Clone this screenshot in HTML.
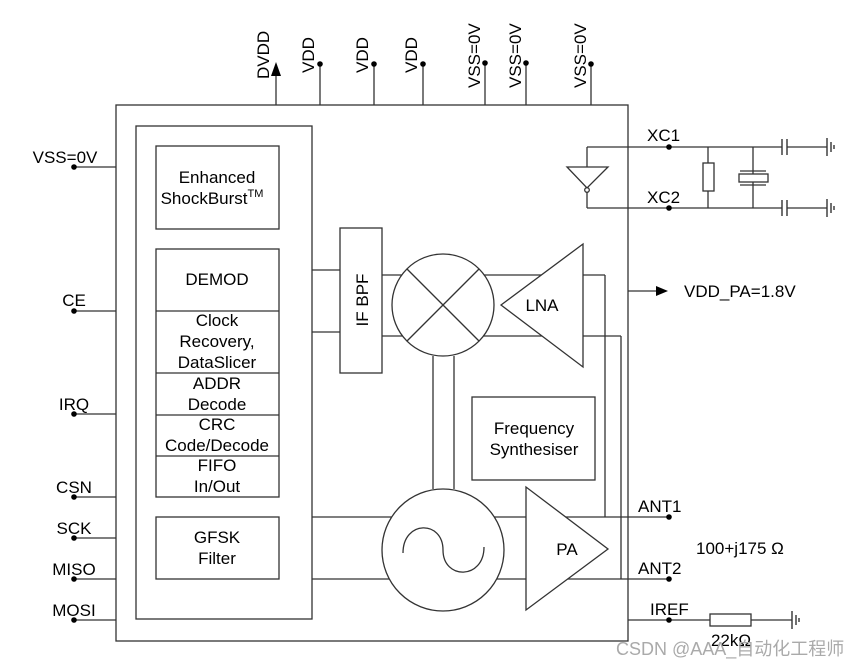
<!DOCTYPE html>
<html><head><meta charset="utf-8"><style>
body{margin:0;background:#fff}
svg{display:block}
text{font-family:"Liberation Sans",Arial,sans-serif;fill:#000}
</style></head><body>
<svg width="865" height="667" viewBox="0 0 865 667" xmlns="http://www.w3.org/2000/svg">
<g stroke="#333" stroke-width="1.3" fill="none">
<line x1="276" y1="70" x2="276" y2="105"/>
<line x1="320" y1="64" x2="320" y2="105"/>
<line x1="374" y1="64" x2="374" y2="105"/>
<line x1="423" y1="64" x2="423" y2="105"/>
<line x1="485" y1="63" x2="485" y2="105"/>
<line x1="526" y1="63" x2="526" y2="105"/>
<line x1="591" y1="64" x2="591" y2="105"/>
<line x1="74" y1="167" x2="116" y2="167"/>
<line x1="74" y1="311" x2="116" y2="311"/>
<line x1="74" y1="414" x2="116" y2="414"/>
<line x1="74" y1="497" x2="116" y2="497"/>
<line x1="74" y1="538" x2="116" y2="538"/>
<line x1="74" y1="579" x2="116" y2="579"/>
<line x1="74" y1="620" x2="116" y2="620"/>
<line x1="312" y1="270" x2="340" y2="270"/>
<line x1="312" y1="332" x2="340" y2="332"/>
<line x1="382" y1="275" x2="605" y2="275"/>
<line x1="605" y1="275" x2="605" y2="517"/>
<line x1="382" y1="336" x2="621" y2="336"/>
<line x1="621" y1="336" x2="621" y2="579"/>
<line x1="433" y1="356" x2="433" y2="489"/>
<line x1="454" y1="356" x2="454" y2="489"/>
<line x1="312" y1="517" x2="669" y2="517"/>
<line x1="312" y1="579" x2="669" y2="579"/>
<line x1="628" y1="620" x2="710" y2="620"/>
<line x1="751" y1="620" x2="792" y2="620"/>
<line x1="587" y1="147" x2="782" y2="147"/>
<line x1="587" y1="208" x2="782" y2="208"/>
<line x1="787" y1="147" x2="827" y2="147"/>
<line x1="787" y1="208" x2="827" y2="208"/>
<line x1="587" y1="147" x2="587" y2="167"/>
<line x1="587" y1="191" x2="587" y2="208"/>
<line x1="708" y1="147" x2="708" y2="208"/>
<line x1="753" y1="147" x2="753" y2="208"/>
<line x1="628" y1="291" x2="660" y2="291"/>
</g>
<g stroke="#333" stroke-width="1.3" fill="#fff">
<rect x="116" y="105" width="512" height="536" fill="none"/>
<rect x="136" y="126" width="176" height="493" fill="none"/>
<rect x="156" y="146" width="123" height="83"/>
<rect x="156" y="249" width="123" height="248"/>
<line x1="156" y1="311" x2="279" y2="311"/>
<line x1="156" y1="373" x2="279" y2="373"/>
<line x1="156" y1="415" x2="279" y2="415"/>
<line x1="156" y1="456" x2="279" y2="456"/>
<rect x="156" y="517" width="123" height="62"/>
<rect x="340" y="228" width="42" height="145"/>
<circle cx="443" cy="305" r="51"/>
<line x1="407" y1="269" x2="479" y2="341"/>
<line x1="479" y1="269" x2="407" y2="341"/>
<polygon points="501,305 583,244 583,367"/>
<rect x="472" y="397" width="123" height="83"/>
<circle cx="443" cy="550" r="61"/>
<path d="M403,553 C403,520 443,520 443,550 C443,580 484,580 484,547" fill="none"/>
<polygon points="526,487 526,610 608,549"/>
<polygon points="567,167 608,167 587,188"/>
<circle cx="587" cy="190" r="2.3"/>
<rect x="703" y="163" width="11" height="28"/>
<line x1="740" y1="171" x2="766" y2="171"/>
<line x1="740" y1="185" x2="766" y2="185"/>
<rect x="739" y="174" width="29" height="8"/>
<rect x="710" y="614" width="41" height="12"/>
</g>
<g stroke="#333" stroke-width="1.4">
<line x1="782" y1="139" x2="782" y2="155"/><line x1="787" y1="139" x2="787" y2="155"/>
<line x1="782" y1="200" x2="782" y2="216"/><line x1="787" y1="200" x2="787" y2="216"/>
<line x1="827" y1="138" x2="827" y2="156"/><line x1="831" y1="142" x2="831" y2="152"/><line x1="834" y1="145" x2="834" y2="149"/>
<line x1="827" y1="199" x2="827" y2="217"/><line x1="831" y1="203" x2="831" y2="213"/><line x1="834" y1="206" x2="834" y2="210"/>
<line x1="792" y1="611" x2="792" y2="629"/><line x1="796" y1="615" x2="796" y2="625"/><line x1="799" y1="618" x2="799" y2="622"/>
</g>
<g fill="#000">
<polygon points="276,62 271,76 281,76"/>
<polygon points="668,291 656,286 656,296"/>
<circle cx="320" cy="64" r="2.8"/><circle cx="374" cy="64" r="2.8"/><circle cx="423" cy="64" r="2.8"/>
<circle cx="485" cy="63" r="2.8"/><circle cx="526" cy="63" r="2.8"/><circle cx="591" cy="64" r="2.8"/>
<circle cx="74" cy="167" r="2.8"/><circle cx="74" cy="311" r="2.8"/><circle cx="74" cy="414" r="2.8"/>
<circle cx="74" cy="497" r="2.8"/><circle cx="74" cy="538" r="2.8"/><circle cx="74" cy="579" r="2.8"/><circle cx="74" cy="620" r="2.8"/>
<circle cx="669" cy="147" r="2.8"/><circle cx="669" cy="208" r="2.8"/>
<circle cx="669" cy="517" r="2.8"/><circle cx="669" cy="579" r="2.8"/><circle cx="669" cy="620" r="2.8"/>
</g>
<g font-size="17">
<text transform="translate(269,79) rotate(-90)">DVDD</text>
<text transform="translate(314,73) rotate(-90)">VDD</text>
<text transform="translate(368,73) rotate(-90)">VDD</text>
<text transform="translate(417,73) rotate(-90)">VDD</text>
<text transform="translate(480,88) rotate(-90)">VSS=0V</text>
<text transform="translate(521,88) rotate(-90)">VSS=0V</text>
<text transform="translate(586,88) rotate(-90)">VSS=0V</text>
<g text-anchor="middle">
<text x="65" y="163">VSS=0V</text>
<text x="74" y="306">CE</text>
<text x="74" y="410">IRQ</text>
<text x="74" y="493">CSN</text>
<text x="74" y="534">SCK</text>
<text x="74" y="575">MISO</text>
<text x="74" y="616">MOSI</text>
<text x="217" y="183">Enhanced</text>
<text x="212" y="204">ShockBurst<tspan font-size="11" dy="-7">TM</tspan></text>
<text x="217" y="285">DEMOD</text>
<text x="217" y="326">Clock</text>
<text x="217" y="347">Recovery,</text>
<text x="217" y="368">DataSlicer</text>
<text x="217" y="389">ADDR</text>
<text x="217" y="410">Decode</text>
<text x="217" y="430">CRC</text>
<text x="217" y="451">Code/Decode</text>
<text x="217" y="471">FIFO</text>
<text x="217" y="492">In/Out</text>
<text x="217" y="543">GFSK</text>
<text x="217" y="564">Filter</text>
<text x="534" y="434">Frequency</text>
<text x="534" y="455">Synthesiser</text>
<text x="542" y="311">LNA</text>
<text x="567" y="555">PA</text>
<text x="731" y="646">22kΩ</text>
</g>
<text transform="translate(368,300) rotate(-90)" text-anchor="middle">IF BPF</text>
<text x="647" y="141">XC1</text>
<text x="647" y="203">XC2</text>
<text x="684" y="297">VDD_PA=1.8V</text>
<text x="638" y="512">ANT1</text>
<text x="638" y="574">ANT2</text>
<text x="650" y="615">IREF</text>
<text x="696" y="554">100+j175 Ω</text>
</g>
<text x="616" y="655" font-size="18" style="fill:#aaa;font-family:'Liberation Sans','Noto Sans CJK SC',sans-serif">CSDN @AAA_自动化工程师</text>
</svg>
</body></html>
